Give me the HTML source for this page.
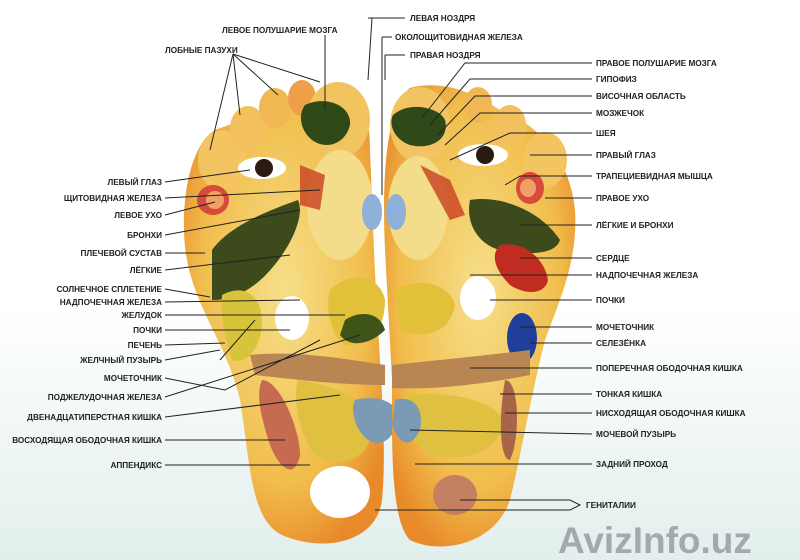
<!DOCTYPE html>
<html><head><meta charset="utf-8"><style>
html,body{margin:0;padding:0;background:#fff}
svg{display:block}
text{font-family:"Liberation Sans",sans-serif;font-size:8.2px;font-weight:bold;fill:#222}
</style></head><body>
<svg width="800" height="560" viewBox="0 0 800 560">
<defs>
<radialGradient id="g1" cx="50%" cy="45%" r="60%"><stop offset="0" stop-color="#f6e08a"/><stop offset="0.7" stop-color="#f1bd4c"/><stop offset="1" stop-color="#e88a2a"/></radialGradient>
<linearGradient id="bg" x1="0" y1="0" x2="0" y2="1"><stop offset="0" stop-color="#fff"/><stop offset="0.55" stop-color="#fff"/><stop offset="1" stop-color="#e2efed"/></linearGradient>
</defs>
<rect width="800" height="560" fill="url(#bg)"/>
<!-- left foot -->
<g>
<path d="M330,88 C358,84 370,110 370,150 L374,250 C378,350 388,440 382,500 C376,545 320,552 282,535 C250,520 250,460 240,400 C225,335 185,300 184,230 C183,175 198,140 215,130 Z" fill="url(#g1)"/>
<ellipse cx="222" cy="160" rx="24" ry="30" fill="#f3c460"/>
<ellipse cx="248" cy="128" rx="18" ry="22" fill="#f2c15e"/>
<ellipse cx="275" cy="108" rx="16" ry="20" fill="#f0b752"/>
<ellipse cx="302" cy="98" rx="14" ry="18" fill="#eea048"/>
<ellipse cx="338" cy="120" rx="32" ry="38" fill="#f1c460"/>
<path d="M305,105 C325,95 352,105 350,125 C345,145 325,150 312,140 C300,130 298,115 305,105Z" fill="#2f4a18"/>
<ellipse cx="262" cy="168" rx="24" ry="11" fill="#fff"/><circle cx="264" cy="168" r="9" fill="#2a1a10"/>
<ellipse cx="213" cy="200" rx="16" ry="15" fill="#d84a3a"/><ellipse cx="215" cy="200" rx="9" ry="9" fill="#f2a066"/>
<path d="M212,250 C230,225 270,210 298,200 C305,215 292,245 272,268 C252,292 230,300 212,300 Z" fill="#3d4a1c"/>
<ellipse cx="340" cy="205" rx="33" ry="55" fill="#f4dd8a"/>
<path d="M300,165 L325,175 L320,210 L300,205 Z" fill="#c8401f" opacity=".8"/>
<path d="M222,295 C240,285 260,290 262,320 C262,350 245,365 232,360 C225,340 220,315 222,295Z" fill="#d8c43a"/>
<ellipse cx="292" cy="318" rx="17" ry="22" fill="#fff"/>
<path d="M330,290 C350,270 380,275 385,300 C385,330 370,345 345,345 C330,335 325,305 330,290Z" fill="#e3c03a"/>
<path d="M345,320 C360,310 380,312 385,330 C370,345 350,348 340,335Z" fill="#3f5418"/>
<path d="M250,355 C300,350 350,360 385,365 L385,385 C340,385 300,380 255,375Z" fill="#b98553"/>
<path d="M262,380 C280,380 300,430 300,455 C295,480 280,470 270,445 C262,420 255,395 262,380Z" fill="#c66a50"/>
<path d="M298,380 C330,385 365,395 372,425 C372,460 340,470 315,455 C300,435 292,400 298,380Z" fill="#e0c040"/>
<path d="M355,400 C375,395 395,400 398,415 C396,440 380,448 368,440 C355,430 350,410 355,400Z" fill="#7a9ab5"/>
<ellipse cx="340" cy="492" rx="30" ry="26" fill="#fff"/>
<ellipse cx="372" cy="212" rx="10" ry="18" fill="#8fb0d8"/>
</g>
<!-- right foot -->
<g>
<path d="M410,88 C440,80 470,90 500,110 C540,125 570,160 575,210 C578,260 560,300 545,340 C530,400 520,460 510,500 C495,545 440,555 410,540 C390,520 392,440 392,380 L385,250 C382,180 385,110 410,88Z" fill="url(#g1)"/>
<ellipse cx="420" cy="125" rx="30" ry="38" fill="#f2c462"/>
<ellipse cx="478" cy="105" rx="14" ry="18" fill="#f0b752"/>
<ellipse cx="510" cy="125" rx="16" ry="20" fill="#f2c15e"/>
<ellipse cx="545" cy="160" rx="22" ry="28" fill="#f3c460"/>
<path d="M393,115 C410,100 440,108 445,120 C450,140 430,150 410,145 C395,140 388,125 393,115Z" fill="#2f4a18"/>
<ellipse cx="483" cy="155" rx="25" ry="11" fill="#fff"/><circle cx="485" cy="155" r="9" fill="#2a1a10"/>
<ellipse cx="530" cy="188" rx="14" ry="16" fill="#d84a3a"/><ellipse cx="528" cy="188" rx="8" ry="9" fill="#f2a066"/>
<ellipse cx="418" cy="208" rx="30" ry="52" fill="#f4dd8a"/>
<path d="M420,165 L450,180 L465,215 L450,220 Z" fill="#c8401f" opacity=".8"/>
<path d="M470,200 C500,195 540,210 560,240 C555,255 530,255 500,250 C480,245 465,225 470,200Z" fill="#3d4a1c"/>
<path d="M500,245 C525,240 545,260 548,280 C545,295 525,295 510,285 C495,270 490,255 500,245Z" fill="#c02c1f"/>
<path d="M395,290 C420,275 450,285 455,305 C450,335 420,340 400,330Z" fill="#e3c03a"/>
<ellipse cx="478" cy="298" rx="18" ry="22" fill="#fff"/>
<ellipse cx="522" cy="338" rx="15" ry="25" fill="#1f3f9a"/>
<path d="M392,365 C440,360 490,355 530,350 L530,375 C480,385 430,390 392,388Z" fill="#b98553"/>
<path d="M405,395 C440,392 485,395 505,420 C500,455 460,462 430,455 C410,445 400,415 405,395Z" fill="#e0c040"/>
<path d="M505,380 C520,380 520,440 510,460 C500,460 498,420 505,380Z" fill="#a8654a"/>
<path d="M395,400 C410,395 425,405 420,430 C410,450 400,445 392,425Z" fill="#7a9ab5"/>
<ellipse cx="455" cy="495" rx="22" ry="20" fill="#c48060"/>
<ellipse cx="396" cy="212" rx="10" ry="18" fill="#8fb0d8"/>
</g>
<!-- leader lines -->
<g stroke="#222" stroke-width="1" fill="none">
<line x1="233" y1="54" x2="210" y2="150"/><line x1="233" y1="54" x2="240" y2="115"/><line x1="233" y1="54" x2="278" y2="95"/><line x1="233" y1="54" x2="320" y2="82"/>
<line x1="325" y1="35" x2="325" y2="110"/>
<line x1="372" y1="18" x2="368" y2="80"/><line x1="368" y1="18" x2="405" y2="18"/>
<line x1="382" y1="37" x2="382" y2="195"/><line x1="382" y1="37" x2="392" y2="37"/>
<line x1="385" y1="55" x2="385" y2="80"/><line x1="385" y1="55" x2="405" y2="55"/>
<path d="M165,182 L250,170"/><path d="M165,198 L320,190"/><path d="M165,215 L215,202"/><path d="M165,235 L300,210"/>
<path d="M165,253 L205,253"/><path d="M165,270 L290,255"/><path d="M165,289 L210,297"/><path d="M165,302 L300,300"/>
<path d="M165,315 L345,315"/><path d="M165,330 L290,330"/><path d="M165,345 L225,343"/><path d="M165,360 L220,350 M220,360 L255,320"/>
<path d="M165,378 L225,390 L320,340"/><path d="M165,397 L360,335"/><path d="M165,417 L340,395"/><path d="M165,440 L285,440"/><path d="M165,465 L310,465"/>
<path d="M592,63 L465,63 L422,118"/><path d="M592,79 L470,79 L430,125"/><path d="M592,96 L475,96 L438,135"/><path d="M592,113 L480,113 L445,145"/>
<path d="M592,133 L510,133 L450,160"/><path d="M592,155 L530,155"/><path d="M592,176 L520,176 L505,185"/><path d="M592,198 L545,198"/>
<path d="M592,225 L520,225"/><path d="M592,258 L520,258"/><path d="M592,275 L470,275"/><path d="M592,300 L490,300"/>
<path d="M592,327 L520,327"/><path d="M592,343 L530,343"/><path d="M592,368 L470,368"/><path d="M592,394 L500,394"/>
<path d="M592,413 L505,413"/><path d="M592,434 L410,430"/><path d="M592,464 L415,464"/>
<path d="M375,510 L570,510 L580,505 L570,500 L460,500"/>
</g>
<!-- labels -->
<text x="222" y="33">ЛЕВОЕ ПОЛУШАРИЕ МОЗГА</text>
<text x="165" y="53">ЛОБНЫЕ ПАЗУХИ</text>
<text x="410" y="21">ЛЕВАЯ НОЗДРЯ</text>
<text x="395" y="40">ОКОЛОЩИТОВИДНАЯ ЖЕЛЕЗА</text>
<text x="410" y="58">ПРАВАЯ НОЗДРЯ</text>
<g text-anchor="end">
<text x="162" y="185">ЛЕВЫЙ ГЛАЗ</text><text x="162" y="201">ЩИТОВИДНАЯ ЖЕЛЕЗА</text><text x="162" y="218">ЛЕВОЕ УХО</text>
<text x="162" y="238">БРОНХИ</text><text x="162" y="256">ПЛЕЧЕВОЙ СУСТАВ</text><text x="162" y="273">ЛЁГКИЕ</text>
<text x="162" y="292">СОЛНЕЧНОЕ СПЛЕТЕНИЕ</text><text x="162" y="305">НАДПОЧЕЧНАЯ ЖЕЛЕЗА</text><text x="162" y="318">ЖЕЛУДОК</text>
<text x="162" y="333">ПОЧКИ</text><text x="162" y="348">ПЕЧЕНЬ</text><text x="162" y="363">ЖЕЛЧНЫЙ ПУЗЫРЬ</text>
<text x="162" y="381">МОЧЕТОЧНИК</text><text x="162" y="400">ПОДЖЕЛУДОЧНАЯ ЖЕЛЕЗА</text><text x="162" y="420">ДВЕНАДЦАТИПЕРСТНАЯ КИШКА</text>
<text x="162" y="443">ВОСХОДЯЩАЯ ОБОДОЧНАЯ КИШКА</text><text x="162" y="468">АППЕНДИКС</text>
</g>
<g>
<text x="596" y="66">ПРАВОЕ ПОЛУШАРИЕ МОЗГА</text><text x="596" y="82">ГИПОФИЗ</text><text x="596" y="99">ВИСОЧНАЯ ОБЛАСТЬ</text>
<text x="596" y="116">МОЗЖЕЧОК</text><text x="596" y="136">ШЕЯ</text><text x="596" y="158">ПРАВЫЙ ГЛАЗ</text>
<text x="596" y="179">ТРАПЕЦИЕВИДНАЯ МЫШЦА</text><text x="596" y="201">ПРАВОЕ УХО</text><text x="596" y="228">ЛЁГКИЕ И БРОНХИ</text>
<text x="596" y="261">СЕРДЦЕ</text><text x="596" y="278">НАДПОЧЕЧНАЯ ЖЕЛЕЗА</text><text x="596" y="303">ПОЧКИ</text>
<text x="596" y="330">МОЧЕТОЧНИК</text><text x="596" y="346">СЕЛЕЗЁНКА</text><text x="596" y="371">ПОПЕРЕЧНАЯ ОБОДОЧНАЯ КИШКА</text>
<text x="596" y="397">ТОНКАЯ КИШКА</text><text x="596" y="416">НИСХОДЯЩАЯ ОБОДОЧНАЯ КИШКА</text><text x="596" y="437">МОЧЕВОЙ ПУЗЫРЬ</text>
<text x="596" y="467">ЗАДНИЙ ПРОХОД</text><text x="586" y="508">ГЕНИТАЛИИ</text>
</g>
<text x="558" y="553" style="font-size:37px;fill:#a4a9ab;font-weight:bold">AvizInfo.uz</text>
</svg>
</body></html>
